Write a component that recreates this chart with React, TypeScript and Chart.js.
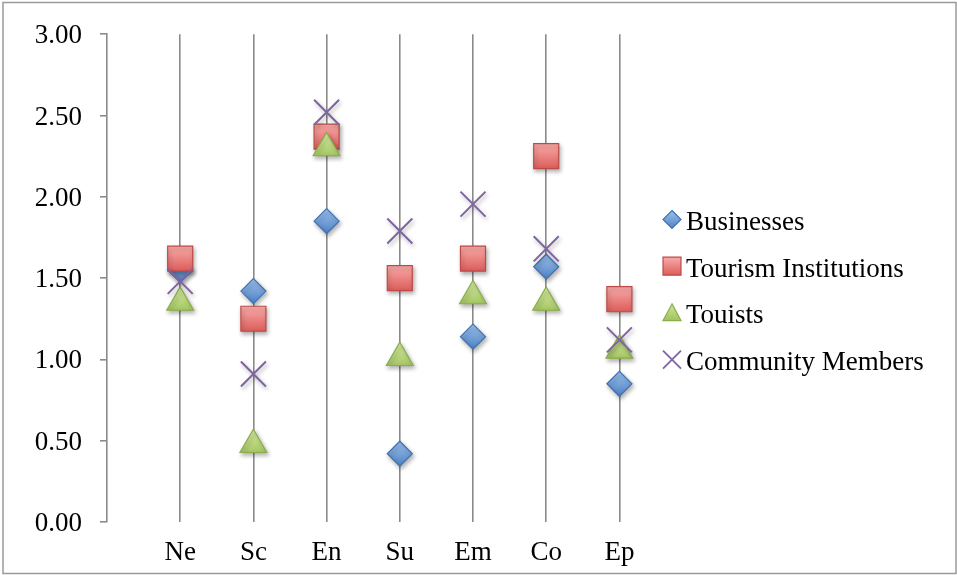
import React, { useEffect, useRef } from 'react';
import { Chart, registerables } from 'chart.js';

Chart.register(...registerables);

const categories = ['Ne', 'Sc', 'En', 'Su', 'Em', 'Co', 'Ep'];
const businesses = [1.55, 1.42, 1.85, 0.42, 1.14, 1.57, 0.85];
const tourismInstitutions = [1.62, 1.25, 2.37, 1.5, 1.62, 2.25, 1.37];
const touists = [1.35, 0.475, 2.3, 1.01, 1.39, 1.35, 1.055];
const communityMembers = [1.48, 0.91, 2.52, 1.79, 1.955, 1.68, 1.12];
const yTicks = [0, 0.5, 1, 1.5, 2, 2.5, 3];
const seriesNames = ['Businesses', 'Tourism Institutions', 'Touists', 'Community Members'];

const FONT = "'Liberation Serif', 'Times New Roman', serif";
const FONT_SIZE = 27;

type Style = { top: string; bottom: string; border: string; shape: string };
const styles: Style[] = [
  { top: '#9cc1ee', bottom: '#4f82c4', border: '#3f72b3', shape: 'diamond' },
  { top: '#f9aaa8', bottom: '#dc5e5b', border: '#bc4b48', shape: 'square' },
  { top: '#cfe69a', bottom: '#9cc058', border: '#8aad4a', shape: 'triangle' },
  { top: '#8064a2', bottom: '#8064a2', border: '#8064a2', shape: 'cross' },
];

function gradFill(idx: number) {
  return (c: any) => {
    const s = styles[idx];
    if (c.type !== 'data' || !c.parsed || !c.chart.scales?.y) return s.bottom;
    const py = c.chart.scales.y.getPixelForValue(c.parsed.y);
    if (!Number.isFinite(py)) return s.bottom;
    const g = c.chart.ctx.createLinearGradient(0, py - 12, 0, py + 12);
    g.addColorStop(0, s.top);
    g.addColorStop(1, s.bottom);
    return g;
  };
}

const framePlugin = {
  id: 'frame',
  beforeDraw(chart: any) {
    const ctx = chart.ctx;
    ctx.save();
    ctx.fillStyle = '#ffffff';
    ctx.fillRect(0, 0, chart.width, chart.height);
    ctx.strokeStyle = '#9a9a9a';
    ctx.lineWidth = 1.5;
    ctx.strokeRect(3, 2.5, chart.width - 4, chart.height - 4);
    ctx.restore();
  },
};

const shadowPlugin = {
  id: 'markerShadow',
  beforeDatasetsDraw(chart: any) {
    const ctx = chart.ctx;
    ctx.save();
    ctx.shadowColor = 'rgba(0,0,0,0.3)';
    ctx.shadowBlur = 4;
    ctx.shadowOffsetX = 1.5;
    ctx.shadowOffsetY = 2.5;
  },
  afterDatasetsDraw(chart: any) {
    chart.ctx.restore();
  },
};

function drawLegendMarker(ctx: CanvasRenderingContext2D, shape: string, s: Style, x: number, y: number) {
  const h = 9;
  ctx.save();
  const g = ctx.createLinearGradient(0, y - h, 0, y + h);
  g.addColorStop(0, s.top);
  g.addColorStop(1, s.bottom);
  ctx.fillStyle = g;
  ctx.strokeStyle = s.border;
  ctx.lineWidth = 1.2;
  ctx.beginPath();
  if (shape === 'diamond') {
    ctx.moveTo(x, y - h);
    ctx.lineTo(x + h, y);
    ctx.lineTo(x, y + h);
    ctx.lineTo(x - h, y);
    ctx.closePath();
    ctx.fill();
    ctx.stroke();
  } else if (shape === 'square') {
    ctx.rect(x - h, y - h, 2 * h, 2 * h);
    ctx.fill();
    ctx.stroke();
  } else if (shape === 'triangle') {
    ctx.moveTo(x, y - h);
    ctx.lineTo(x + h, y + h * 0.85);
    ctx.lineTo(x - h, y + h * 0.85);
    ctx.closePath();
    ctx.fill();
    ctx.stroke();
  } else {
    ctx.lineWidth = 1.8;
    ctx.moveTo(x - h, y - h);
    ctx.lineTo(x + h, y + h);
    ctx.moveTo(x + h, y - h);
    ctx.lineTo(x - h, y + h);
    ctx.stroke();
  }
  ctx.restore();
}

const legendPlugin = {
  id: 'sideLegend',
  afterDraw(chart: any) {
    const ctx = chart.ctx;
    const area = chart.chartArea;
    const mx = area.right + 16;
    const tx = mx + 14;
    const baseTop = 230;
    const step = 46.7;
    ctx.save();
    ctx.font = `${FONT_SIZE}px ${FONT}`;
    ctx.fillStyle = '#000';
    ctx.textAlign = 'left';
    ctx.textBaseline = 'alphabetic';
    seriesNames.forEach((name, i) => {
      const base = baseTop + i * step;
      drawLegendMarker(ctx, styles[i].shape, styles[i], mx, base - 10.5);
      ctx.fillText(name, tx, base);
    });
    ctx.restore();
  },
};

export default function App() {
  const ref = useRef<HTMLCanvasElement | null>(null);

  useEffect(() => {
    if (!ref.current) return;
    const toPts = (arr: number[]) => arr.map((v, i) => ({ x: i + 1, y: v }));
    const chart = new Chart(ref.current, {
      type: 'scatter',
      data: {
        datasets: [
          {
            label: seriesNames[0],
            data: toPts(businesses),
            pointStyle: 'rectRot',
            pointRadius: 12.5,
            pointHoverRadius: 12.5,
            pointBackgroundColor: gradFill(0),
            pointBorderColor: styles[0].border,
            pointBorderWidth: 1.2,
            order: 4,
          },
          {
            label: seriesNames[1],
            data: toPts(tourismInstitutions),
            pointStyle: 'rect',
            pointRadius: 17.7,
            pointHoverRadius: 17.7,
            pointBackgroundColor: gradFill(1),
            pointBorderColor: styles[1].border,
            pointBorderWidth: 1.2,
            order: 3,
          },
          {
            label: seriesNames[2],
            data: toPts(touists),
            pointStyle: 'triangle',
            pointRadius: 15.5,
            pointHoverRadius: 15.5,
            pointBackgroundColor: gradFill(2),
            pointBorderColor: styles[2].border,
            pointBorderWidth: 1.2,
            order: 2,
          },
          {
            label: seriesNames[3],
            data: toPts(communityMembers),
            pointStyle: 'crossRot',
            pointRadius: 17.7,
            pointHoverRadius: 17.7,
            pointBackgroundColor: styles[3].bottom,
            pointBorderColor: styles[3].border,
            pointBorderWidth: 2,
            order: 1,
          },
        ] as any,
      },
      options: {
        animation: false,
        responsive: true,
        maintainAspectRatio: false,
        layout: { padding: { left: 0, top: 32, right: 301, bottom: 0 } },
        plugins: {
          legend: { display: false },
          tooltip: { enabled: false },
        },
        scales: {
          x: {
            type: 'linear',
            min: 0,
            max: 7.5,
            afterBuildTicks: (scale: any) => {
              scale.ticks = categories.map((_, i) => ({ value: i + 1 }));
            },
            afterFit: (scale: any) => {
              scale.height = 53;
            },
            ticks: {
              autoSkip: false,
              maxRotation: 0,
              padding: 15,
              color: '#000',
              font: { family: FONT, size: FONT_SIZE },
              callback: (v: any) => categories[Number(v) - 1] ?? '',
            },
            grid: {
              display: true,
              drawTicks: false,
              color: '#8a8a8a',
              lineWidth: 1.6,
            },
            border: { display: false },
          },
          y: {
            type: 'linear',
            min: 0,
            max: 3,
            afterBuildTicks: (scale: any) => {
              scale.ticks = yTicks.map((v) => ({ value: v }));
            },
            afterFit: (scale: any) => {
              scale.width = 107;
            },
            ticks: {
              padding: 18,
              labelOffset: 2,
              color: '#000',
              font: { family: FONT, size: FONT_SIZE },
              callback: (v: any) => Number(v).toFixed(2),
            },
            grid: {
              display: true,
              drawOnChartArea: false,
              drawTicks: true,
              tickLength: 7,
              color: '#8a8a8a',
              lineWidth: 1.6,
            },
            border: { display: true, color: '#8a8a8a', width: 1.6 },
          },
        },
      },
      plugins: [framePlugin, shadowPlugin, legendPlugin],
    });
    return () => chart.destroy();
  }, []);

  return (
    <div style={{ position: 'absolute', left: 0, top: 0, width: 957, height: 575, background: '#fff' }}>
      <canvas ref={ref} />
    </div>
  );
}
